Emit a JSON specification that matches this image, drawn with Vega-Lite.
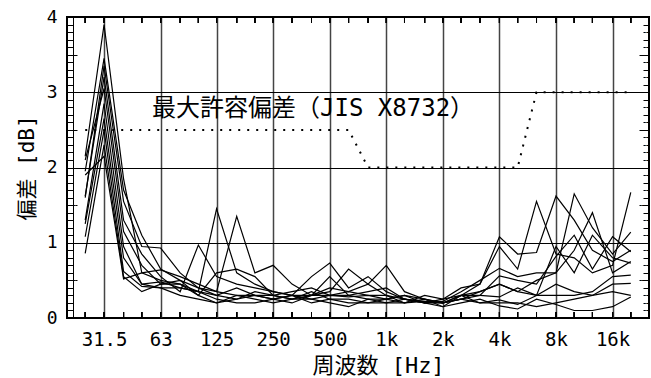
{
"$schema":"https://vega.github.io/schema/vega-lite/v6.json",
"width":582,"height":301,
"autosize":"none",
"padding":{"left":67,"top":17,"right":2,"bottom":60},
"background":"white",
"config":{"view":{"stroke":"black","strokeWidth":2},"axis":{"labelColor":"black","titleColor":"black"}},
"datasets":{
"d":[
{"s":1,"f":25,"v":2.15},{"s":1,"f":31.5,"v":3.9},{"s":1,"f":40,"v":1.85},{"s":1,"f":50,"v":0.6},{"s":1,"f":63,"v":0.5},{"s":1,"f":80,"v":0.45},{"s":1,"f":100,"v":0.35},{"s":1,"f":125,"v":1.45},{"s":1,"f":160,"v":0.6},{"s":1,"f":200,"v":0.45},{"s":1,"f":250,"v":0.35},{"s":1,"f":315,"v":0.3},{"s":1,"f":400,"v":0.25},{"s":1,"f":500,"v":0.3},{"s":1,"f":630,"v":0.28},{"s":1,"f":800,"v":0.3},{"s":1,"f":1000,"v":0.25},{"s":1,"f":1250,"v":0.2},{"s":1,"f":1600,"v":0.22},{"s":1,"f":2000,"v":0.2},{"s":1,"f":2500,"v":0.3},{"s":1,"f":3150,"v":0.45},{"s":1,"f":4000,"v":1.08},{"s":1,"f":5000,"v":0.85},{"s":1,"f":6300,"v":0.87},{"s":1,"f":8000,"v":1.62},{"s":1,"f":10000,"v":1.3},{"s":1,"f":12500,"v":0.9},{"s":1,"f":16000,"v":0.75},{"s":1,"f":20000,"v":0.9},
{"s":2,"f":25,"v":1.95},{"s":2,"f":31.5,"v":3.45},{"s":2,"f":40,"v":1.7},{"s":2,"f":50,"v":1.1},{"s":2,"f":63,"v":0.65},{"s":2,"f":80,"v":0.5},{"s":2,"f":100,"v":0.4},{"s":2,"f":125,"v":0.35},{"s":2,"f":160,"v":1.35},{"s":2,"f":200,"v":0.6},{"s":2,"f":250,"v":0.7},{"s":2,"f":315,"v":0.45},{"s":2,"f":400,"v":0.3},{"s":2,"f":500,"v":0.4},{"s":2,"f":630,"v":0.35},{"s":2,"f":800,"v":0.45},{"s":2,"f":1000,"v":0.3},{"s":2,"f":1250,"v":0.25},{"s":2,"f":1600,"v":0.2},{"s":2,"f":2000,"v":0.25},{"s":2,"f":2500,"v":0.4},{"s":2,"f":3150,"v":0.45},{"s":2,"f":4000,"v":0.95},{"s":2,"f":5000,"v":0.65},{"s":2,"f":6300,"v":1.55},{"s":2,"f":8000,"v":0.85},{"s":2,"f":10000,"v":0.8},{"s":2,"f":12500,"v":0.6},{"s":2,"f":16000,"v":0.7},{"s":2,"f":20000,"v":1.67},
{"s":3,"f":25,"v":1.6},{"s":3,"f":31.5,"v":3.35},{"s":3,"f":40,"v":1.55},{"s":3,"f":50,"v":0.95},{"s":3,"f":63,"v":0.93},{"s":3,"f":80,"v":0.6},{"s":3,"f":100,"v":0.4},{"s":3,"f":125,"v":0.3},{"s":3,"f":160,"v":0.25},{"s":3,"f":200,"v":0.3},{"s":3,"f":250,"v":0.25},{"s":3,"f":315,"v":0.3},{"s":3,"f":400,"v":0.55},{"s":3,"f":500,"v":0.73},{"s":3,"f":630,"v":0.4},{"s":3,"f":800,"v":0.55},{"s":3,"f":1000,"v":0.35},{"s":3,"f":1250,"v":0.25},{"s":3,"f":1600,"v":0.2},{"s":3,"f":2000,"v":0.22},{"s":3,"f":2500,"v":0.35},{"s":3,"f":3150,"v":0.5},{"s":3,"f":4000,"v":0.66},{"s":3,"f":5000,"v":0.55},{"s":3,"f":6300,"v":0.6},{"s":3,"f":8000,"v":0.6},{"s":3,"f":10000,"v":1.65},{"s":3,"f":12500,"v":1.2},{"s":3,"f":16000,"v":0.85},{"s":3,"f":20000,"v":1.14},
{"s":4,"f":25,"v":1.62},{"s":4,"f":31.5,"v":3.2},{"s":4,"f":40,"v":1.3},{"s":4,"f":50,"v":0.85},{"s":4,"f":63,"v":0.55},{"s":4,"f":80,"v":0.35},{"s":4,"f":100,"v":0.97},{"s":4,"f":125,"v":0.55},{"s":4,"f":160,"v":0.45},{"s":4,"f":200,"v":0.4},{"s":4,"f":250,"v":0.35},{"s":4,"f":315,"v":0.3},{"s":4,"f":400,"v":0.3},{"s":4,"f":500,"v":0.35},{"s":4,"f":630,"v":0.65},{"s":4,"f":800,"v":0.45},{"s":4,"f":1000,"v":0.7},{"s":4,"f":1250,"v":0.35},{"s":4,"f":1600,"v":0.25},{"s":4,"f":2000,"v":0.2},{"s":4,"f":2500,"v":0.25},{"s":4,"f":3150,"v":0.3},{"s":4,"f":4000,"v":0.56},{"s":4,"f":5000,"v":0.5},{"s":4,"f":6300,"v":0.45},{"s":4,"f":8000,"v":0.82},{"s":4,"f":10000,"v":1.1},{"s":4,"f":12500,"v":0.65},{"s":4,"f":16000,"v":1.08},{"s":4,"f":20000,"v":0.88},
{"s":5,"f":25,"v":2.1},{"s":5,"f":31.5,"v":3.05},{"s":5,"f":40,"v":1.15},{"s":5,"f":50,"v":0.7},{"s":5,"f":63,"v":0.45},{"s":5,"f":80,"v":0.45},{"s":5,"f":100,"v":0.3},{"s":5,"f":125,"v":0.6},{"s":5,"f":160,"v":0.65},{"s":5,"f":200,"v":0.55},{"s":5,"f":250,"v":0.3},{"s":5,"f":315,"v":0.25},{"s":5,"f":400,"v":0.3},{"s":5,"f":500,"v":0.55},{"s":5,"f":630,"v":0.3},{"s":5,"f":800,"v":0.35},{"s":5,"f":1000,"v":0.4},{"s":5,"f":1250,"v":0.25},{"s":5,"f":1600,"v":0.22},{"s":5,"f":2000,"v":0.2},{"s":5,"f":2500,"v":0.3},{"s":5,"f":3150,"v":0.35},{"s":5,"f":4000,"v":0.45},{"s":5,"f":5000,"v":0.35},{"s":5,"f":6300,"v":0.3},{"s":5,"f":8000,"v":0.95},{"s":5,"f":10000,"v":0.6},{"s":5,"f":12500,"v":1.1},{"s":5,"f":16000,"v":0.8},{"s":5,"f":20000,"v":0.73},
{"s":6,"f":25,"v":1.3},{"s":6,"f":31.5,"v":2.85},{"s":6,"f":40,"v":0.95},{"s":6,"f":50,"v":0.45},{"s":6,"f":63,"v":0.4},{"s":6,"f":80,"v":0.4},{"s":6,"f":100,"v":0.35},{"s":6,"f":125,"v":0.3},{"s":6,"f":160,"v":0.4},{"s":6,"f":200,"v":0.3},{"s":6,"f":250,"v":0.25},{"s":6,"f":315,"v":0.2},{"s":6,"f":400,"v":0.3},{"s":6,"f":500,"v":0.3},{"s":6,"f":630,"v":0.3},{"s":6,"f":800,"v":0.25},{"s":6,"f":1000,"v":0.25},{"s":6,"f":1250,"v":0.3},{"s":6,"f":1600,"v":0.2},{"s":6,"f":2000,"v":0.15},{"s":6,"f":2500,"v":0.3},{"s":6,"f":3150,"v":0.3},{"s":6,"f":4000,"v":0.28},{"s":6,"f":5000,"v":0.4},{"s":6,"f":6300,"v":0.3},{"s":6,"f":8000,"v":0.3},{"s":6,"f":10000,"v":0.3},{"s":6,"f":12500,"v":0.35},{"s":6,"f":16000,"v":0.55},{"s":6,"f":20000,"v":0.57},
{"s":7,"f":25,"v":1.25},{"s":7,"f":31.5,"v":2.65},{"s":7,"f":40,"v":0.8},{"s":7,"f":50,"v":0.45},{"s":7,"f":63,"v":0.48},{"s":7,"f":80,"v":0.4},{"s":7,"f":100,"v":0.35},{"s":7,"f":125,"v":0.25},{"s":7,"f":160,"v":0.2},{"s":7,"f":200,"v":0.2},{"s":7,"f":250,"v":0.25},{"s":7,"f":315,"v":0.3},{"s":7,"f":400,"v":0.2},{"s":7,"f":500,"v":0.25},{"s":7,"f":630,"v":0.25},{"s":7,"f":800,"v":0.2},{"s":7,"f":1000,"v":0.2},{"s":7,"f":1250,"v":0.25},{"s":7,"f":1600,"v":0.2},{"s":7,"f":2000,"v":0.2},{"s":7,"f":2500,"v":0.25},{"s":7,"f":3150,"v":0.2},{"s":7,"f":4000,"v":0.24},{"s":7,"f":5000,"v":0.18},{"s":7,"f":6300,"v":0.3},{"s":7,"f":8000,"v":0.45},{"s":7,"f":10000,"v":0.35},{"s":7,"f":12500,"v":0.3},{"s":7,"f":16000,"v":0.45},{"s":7,"f":20000,"v":0.46},
{"s":8,"f":25,"v":1.08},{"s":8,"f":31.5,"v":2.5},{"s":8,"f":40,"v":0.62},{"s":8,"f":50,"v":0.42},{"s":8,"f":63,"v":0.4},{"s":8,"f":80,"v":0.3},{"s":8,"f":100,"v":0.25},{"s":8,"f":125,"v":0.2},{"s":8,"f":160,"v":0.3},{"s":8,"f":200,"v":0.25},{"s":8,"f":250,"v":0.2},{"s":8,"f":315,"v":0.25},{"s":8,"f":400,"v":0.25},{"s":8,"f":500,"v":0.2},{"s":8,"f":630,"v":0.15},{"s":8,"f":800,"v":0.25},{"s":8,"f":1000,"v":0.2},{"s":8,"f":1250,"v":0.2},{"s":8,"f":1600,"v":0.25},{"s":8,"f":2000,"v":0.15},{"s":8,"f":2500,"v":0.2},{"s":8,"f":3150,"v":0.25},{"s":8,"f":4000,"v":0.16},{"s":8,"f":5000,"v":0.12},{"s":8,"f":6300,"v":0.25},{"s":8,"f":8000,"v":0.18},{"s":8,"f":10000,"v":0.1},{"s":8,"f":12500,"v":0.1},{"s":8,"f":16000,"v":0.15},{"s":8,"f":20000,"v":0.28},
{"s":9,"f":25,"v":0.86},{"s":9,"f":31.5,"v":2.3},{"s":9,"f":40,"v":0.55},{"s":9,"f":50,"v":0.35},{"s":9,"f":63,"v":0.45},{"s":9,"f":80,"v":0.5},{"s":9,"f":100,"v":0.3},{"s":9,"f":125,"v":0.2},{"s":9,"f":160,"v":0.25},{"s":9,"f":200,"v":0.35},{"s":9,"f":250,"v":0.3},{"s":9,"f":315,"v":0.35},{"s":9,"f":400,"v":0.4},{"s":9,"f":500,"v":0.3},{"s":9,"f":630,"v":0.35},{"s":9,"f":800,"v":0.3},{"s":9,"f":1000,"v":0.3},{"s":9,"f":1250,"v":0.2},{"s":9,"f":1600,"v":0.3},{"s":9,"f":2000,"v":0.25},{"s":9,"f":2500,"v":0.3},{"s":9,"f":3150,"v":0.2},{"s":9,"f":4000,"v":0.2},{"s":9,"f":5000,"v":0.2},{"s":9,"f":6300,"v":0.15},{"s":9,"f":8000,"v":0.2},{"s":9,"f":10000,"v":0.25},{"s":9,"f":12500,"v":0.3},{"s":9,"f":16000,"v":0.35},{"s":9,"f":20000,"v":0.3},
{"s":10,"f":25,"v":1.9},{"s":10,"f":31.5,"v":2.15},{"s":10,"f":40,"v":0.52},{"s":10,"f":50,"v":0.6},{"s":10,"f":63,"v":0.64},{"s":10,"f":80,"v":0.55},{"s":10,"f":100,"v":0.45},{"s":10,"f":125,"v":0.35},{"s":10,"f":160,"v":0.3},{"s":10,"f":200,"v":0.3},{"s":10,"f":250,"v":0.3},{"s":10,"f":315,"v":0.25},{"s":10,"f":400,"v":0.35},{"s":10,"f":500,"v":0.25},{"s":10,"f":630,"v":0.2},{"s":10,"f":800,"v":0.2},{"s":10,"f":1000,"v":0.25},{"s":10,"f":1250,"v":0.3},{"s":10,"f":1600,"v":0.25},{"s":10,"f":2000,"v":0.2},{"s":10,"f":2500,"v":0.25},{"s":10,"f":3150,"v":0.35},{"s":10,"f":4000,"v":0.45},{"s":10,"f":5000,"v":0.35},{"s":10,"f":6300,"v":0.5},{"s":10,"f":8000,"v":0.6},{"s":10,"f":10000,"v":0.9},{"s":10,"f":12500,"v":1.4},{"s":10,"f":16000,"v":0.6},{"s":10,"f":20000,"v":0.75}
],
"tol":[{"f":25,"v":2.5},{"f":630,"v":2.5},{"f":800,"v":2.0},{"f":5000,"v":2.0},{"f":6300,"v":3.0},{"f":20000,"v":3.0}],
"lab":[{"f":56.7,"v":2.78,"t":"最大許容偏差（JIS X8732）"}]
},
"resolve":{"axis":{"x":"independent","y":"independent"}},
"layer":[
{"data":{"name":"d"},"mark":{"type":"line","color":"black","strokeWidth":1.2},
"encoding":{
"x":{"field":"f","type":"quantitative","scale":{"type":"log","domain":[20,25000],"nice":false},
"axis":{"orient":"bottom","domain":false,"values":[31.5,63,125,250,500,1000,2000,4000,8000,16000],"labelExpr":"datum.value>=1000?(datum.value/1000)+'k':datum.value","grid":true,"gridColor":"#444","gridWidth":1.5,"gridOpacity":1,"ticks":false,"labelFont":"DejaVu Sans Mono","labelFontSize":19,"labelPadding":12,"title":"周波数 [Hz]","titleFont":"DejaVu Sans Mono, Noto Sans CJK JP","titleFontSize":22,"titleFontWeight":"normal","titlePadding":6,"titleX":311,"labelFlush":false}},
"y":{"field":"v","type":"quantitative","scale":{"domain":[0,4],"nice":false},
"axis":{"orient":"left","domain":false,"values":[0,1,2,3,4],"grid":true,"gridColor":"black","gridWidth":1.2,"gridOpacity":1,"ticks":false,"labelFont":"DejaVu Sans Mono","labelFontSize":18,"labelPadding":10,"title":"偏差 [dB]","titleFont":"DejaVu Sans Mono, Noto Sans CJK JP","titleFontSize":21,"titleFontWeight":"normal","titlePadding":9}},
"detail":{"field":"s"}}},
{"data":{"name":"d"},"mark":{"type":"tick","color":"#000","thickness":1,"size":6,"yOffset":-3},
"encoding":{
"x":{"field":"f","type":"quantitative","scale":{"type":"log","domain":[20,25000],"nice":false},"axis":null},
"y":{"datum":0,"type":"quantitative","scale":{"domain":[0,4],"nice":false},"axis":null}}},
{"data":{"name":"d"},"mark":{"type":"tick","color":"#000","thickness":1,"size":6,"yOffset":3},
"encoding":{
"x":{"field":"f","type":"quantitative","scale":{"type":"log","domain":[20,25000],"nice":false},"axis":null},
"y":{"datum":4,"type":"quantitative","scale":{"domain":[0,4],"nice":false},"axis":null}}},
{"data":{"name":"tol"},"mark":{"type":"line","color":"black","strokeWidth":2,"strokeDash":[2,7],"strokeCap":"butt"},
"encoding":{
"x":{"field":"f","type":"quantitative","scale":{"type":"log","domain":[20,25000],"nice":false},"axis":null},
"y":{"field":"v","type":"quantitative","scale":{"domain":[0,4],"nice":false},
"axis":{"orient":"left","offset":-6,"tickSize":6,"tickColor":"#010101","domainColor":"#010101","labelColor":"#ffffff","labelFontSize":1,"values":[0.1,0.2,0.3,0.4,0.6,0.7,0.8,0.9,1.1,1.2,1.3,1.4,1.6,1.7,1.8,1.9,2.1,2.2,2.3,2.4,2.6,2.7,2.8,2.9,3.1,3.2,3.3,3.4,3.6,3.7,3.8,3.9],"title":null}}}},
{"data":{"name":"lab"},"mark":{"type":"text","align":"left","baseline":"middle","font":"DejaVu Sans Mono, Noto Sans CJK JP","fontSize":24,"color":"black"},
"encoding":{
"x":{"field":"f","type":"quantitative","scale":{"type":"log","domain":[20,25000],"nice":false},"axis":null},
"y":{"field":"v","type":"quantitative","scale":{"domain":[0,4],"nice":false},
"axis":{"orient":"right","tickSize":-6,"tickColor":"#010101","domainColor":"#010101","labelColor":"#ffffff","labelFontSize":1,"values":[0.1,0.2,0.3,0.4,0.6,0.7,0.8,0.9,1.1,1.2,1.3,1.4,1.6,1.7,1.8,1.9,2.1,2.2,2.3,2.4,2.6,2.7,2.8,2.9,3.1,3.2,3.3,3.4,3.6,3.7,3.8,3.9],"title":null}},
"text":{"field":"t"}}},
{"data":{"name":"tol"},"mark":{"type":"line","strokeOpacity":0},
"encoding":{
"x":{"field":"f","type":"quantitative","scale":{"type":"log","domain":[20,25000],"nice":false},"axis":null},
"y":{"field":"v","type":"quantitative","scale":{"domain":[0,4],"nice":false},
"axis":{"orient":"left","tickSize":-10,"tickColor":"#010101","domainColor":"#010101","labelColor":"#ffffff","labelFontSize":1,"values":[0.5,1.5,2.5,3.5],"title":null}}}},
{"data":{"name":"tol"},"mark":{"type":"line","strokeOpacity":0},
"encoding":{
"x":{"field":"f","type":"quantitative","scale":{"type":"log","domain":[20,25000],"nice":false},"axis":null},
"y":{"field":"v","type":"quantitative","scale":{"domain":[0,4],"nice":false},
"axis":{"orient":"right","tickSize":-10,"tickColor":"#010101","domainColor":"#010101","labelColor":"#ffffff","labelFontSize":1,"values":[0.5,1.5,2.5,3.5],"title":null}}}}
]
}
